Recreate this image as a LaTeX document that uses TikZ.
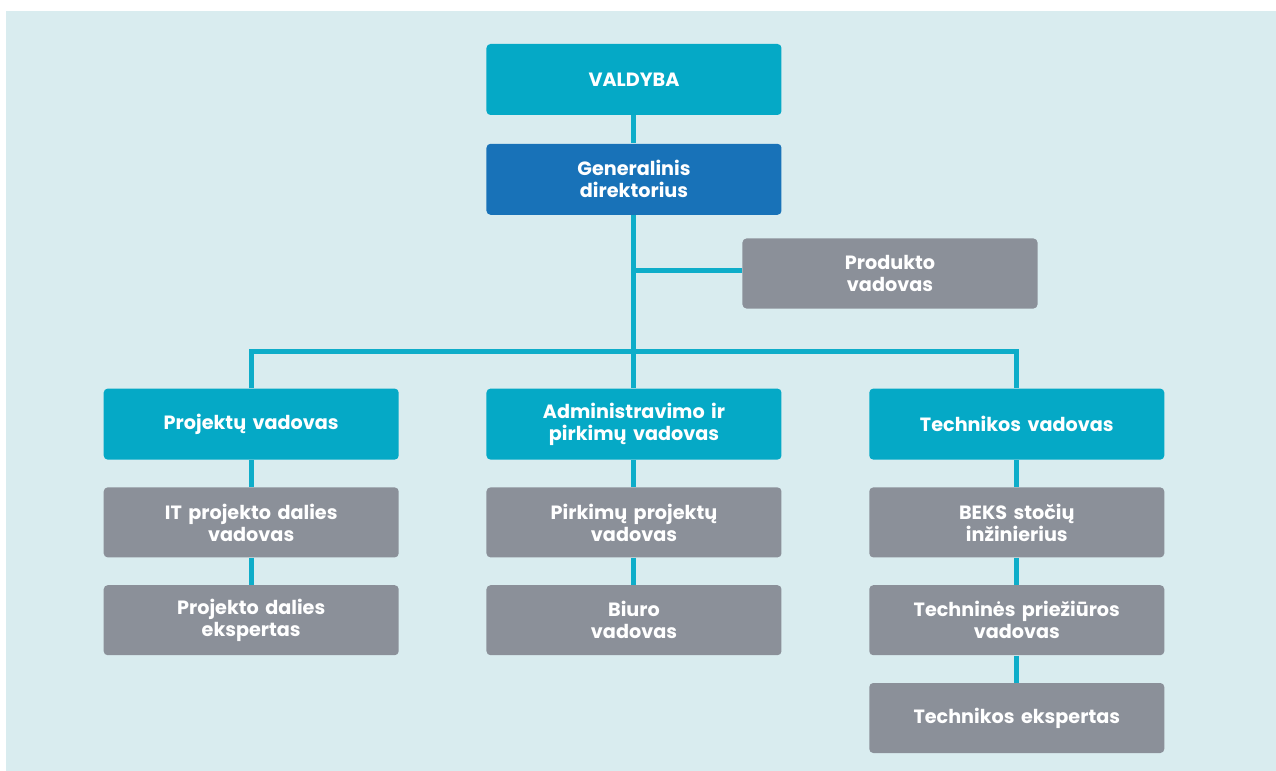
\documentclass[tikz,border=0pt]{standalone}
\usepackage{fontspec}
\setmainfont{Poppins}
\usetikzlibrary{positioning}
\definecolor{bgCyan}{HTML}{D9ECEF}
\definecolor{headTeal}{HTML}{05A9C6}
\definecolor{dirBlue}{HTML}{1872B8}
\definecolor{staffGrey}{HTML}{8B9099}
\definecolor{lineTeal}{HTML}{0EADC9}
\tikzstyle{myBox} = [rectangle, rounded corners=2pt, text centered, text width=145pt, minimum width=147.5pt, minimum height=35pt, inner sep=0pt, text=white, font=\fontsize{9.6}{11}\selectfont\bfseries]
\tikzstyle{headBox} = [myBox, fill=headTeal]
\tikzstyle{dirBox} = [myBox, fill=dirBlue]
\tikzstyle{greyBox} = [myBox, fill=staffGrey]
\tikzstyle{link} = [draw=lineTeal, line width=2.5pt]

\begin{document}
\begin{tikzpicture}
		\useasboundingbox (-317pt,39.75pt) rectangle (321pt,-345.75pt);
		\fill [bgCyan] (-314pt,34.25pt) rectangle (321pt,-345.75pt);
		% board and director
		\node [headBox,minimum height=35.5pt](valdyba){VALDYBA};
		\node [dirBox,minimum height=35.5pt,below=14pt of valdyba](gen){Generalinis\\direktorius};
		\node [greyBox](prod) at (128pt,-97pt){Produkto\\vadovas};
		% heads
		\node [headBox,minimum height=35.5pt,below=86.5pt of gen](admin){Administravimo ir\\pirkimų vadovas};
		\node [headBox,minimum height=35.5pt,left=43.5pt of admin](proj){Projektų vadovas};
		\node [headBox,minimum height=35.5pt,right=43.5pt of admin](tech){Technikos vadovas};
		% left column
		\node [greyBox,below=13.5pt of proj](itproj){IT projekto dalies\\vadovas};
		\node [greyBox,below=13.5pt of itproj](projexp){Projekto dalies\\ekspertas};
		% middle column
		\node [greyBox,below=13.5pt of admin](pirk){Pirkimų projektų\\vadovas};
		\node [greyBox,below=13.5pt of pirk](biuro){Biuro\\vadovas};
		% right column
		\node [greyBox,below=13.5pt of tech](beks){BEKS stočių\\inžinierius};
		\node [greyBox,below=13.5pt of beks](priez){Techninės priežiūros\\vadovas};
		\node [greyBox,below=13.5pt of priez](techexp){Technikos ekspertas};
		
		\coordinate [above=18.5pt of proj.north](barL);
		\draw [link] (valdyba.south) -- (gen.north);
		\draw [link] (gen.south) -- (admin.north);
		\draw [link] ([yshift=1.5pt]prod.west) -- ([yshift=1.5pt]prod.west -| gen.south);
		\draw [link] (proj.north) -- (barL) -| (tech.north);
		\draw [link] (proj.south) -- (itproj.north);
		\draw [link] (itproj.south) -- (projexp.north);
		\draw [link] (admin.south) -- (pirk.north);
		\draw [link] (pirk.south) -- (biuro.north);
		\draw [link] (tech.south) -- (beks.north);
		\draw [link] (beks.south) -- (priez.north);
		\draw [link] (priez.south) -- (techexp.north);
		\end{tikzpicture}
\end{document}
